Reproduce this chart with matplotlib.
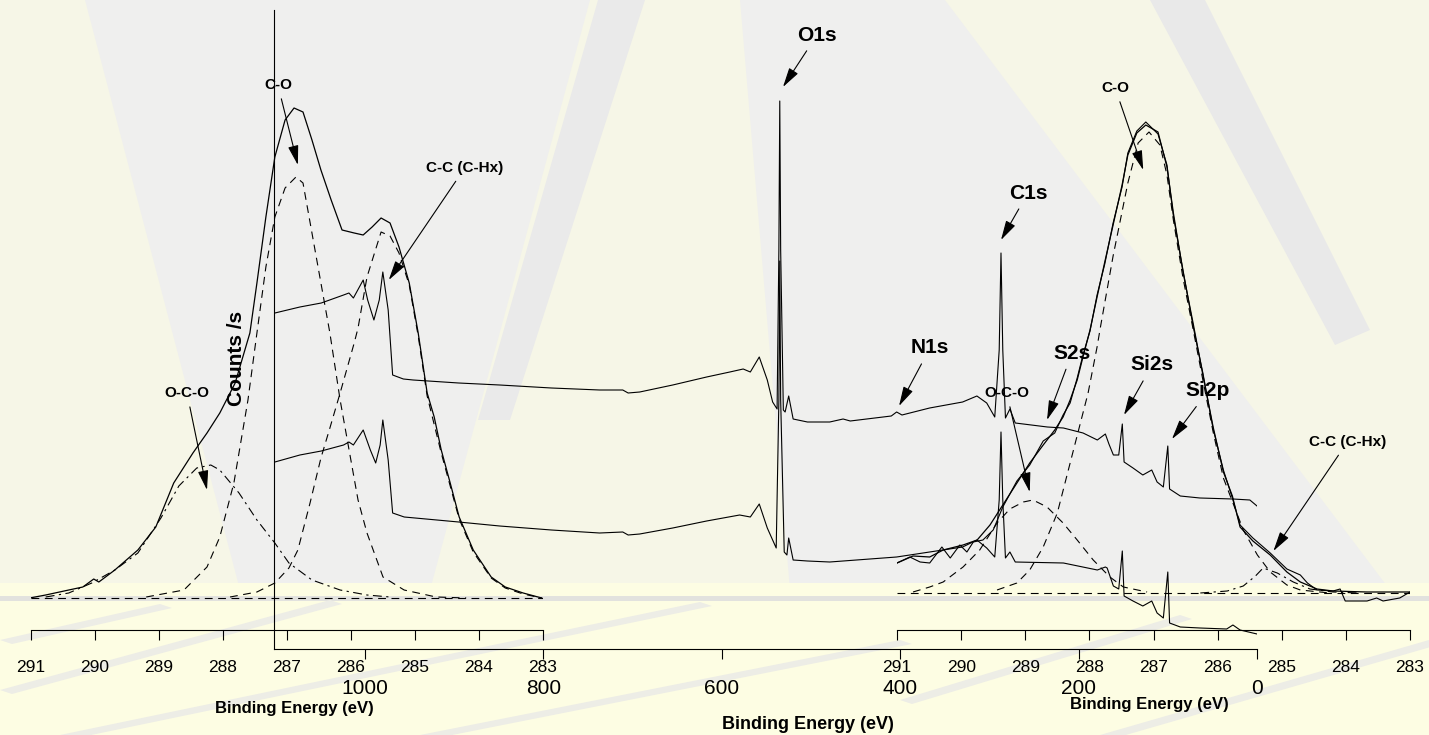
import matplotlib
matplotlib.use('Agg')
import matplotlib.pyplot as plt
from matplotlib.patches import Polygon

plt.rcParams['font.family'] = ['Liberation Sans', 'DejaVu Sans']

# ---------------- data: survey spectra (binding energy eV, counts/s arb.) ----------------
survey_upper_ev = [1101, 1073, 1049, 1024, 1018, 1013, 1002, 997, 990, 984, 980, 974, 969, 957, 946,
                   895, 849, 791, 737, 711, 705, 692, 655, 617, 591, 576, 568, 558, 549, 543, 538,
                   536, 535, 534, 531, 529, 525, 520, 504, 479, 464, 456, 410, 404, 398, 367, 330,
                   314, 303, 294, 289, 287, 285, 282, 277, 271, 235, 217, 195, 179, 170, 166, 161,
                   155, 151, 149, 139, 128, 118, 112, 105, 100, 98, 86, 64, 27, 8, 0]
survey_upper_cps = [336, 342, 346, 354, 356, 351, 369, 349, 329, 349, 377, 339, 274, 270, 269,
                    266, 264, 261, 259, 259, 256, 257, 264, 272, 277, 280, 277, 292, 269, 247, 240,
                    399, 548, 399, 239, 237, 253, 230, 227, 227, 230, 228, 233, 237, 234, 241, 247,
                    253, 246, 232, 299, 396, 299, 231, 240, 226, 222, 221, 216, 209, 215, 205, 194,
                    194, 225, 187, 181, 174, 179, 167, 162, 203, 160, 153, 151, 150, 149, 143]

survey_lower_ev = [1101, 1073, 1049, 1024, 1018, 1013, 1002, 994, 988, 983, 980, 974, 969, 956,
                   895, 849, 791, 737, 711, 705, 692, 655, 617, 580, 568, 558, 549, 539, 536, 535,
                   534, 530, 527, 525, 520, 504, 479, 404, 330, 314, 303, 294, 289, 287, 285, 282,
                   277, 271, 217, 179, 170, 168, 161, 155, 151, 149, 139, 128, 118, 112, 105, 100,
                   98, 86, 64, 34, 27, 19, 0]
survey_lower_cps = [187, 194, 198, 204, 207, 204, 219, 199, 186, 204, 229, 189, 136, 132,
                    127, 123, 119, 116, 117, 114, 115, 121, 128, 134, 132, 145, 121, 101, 249, 388,
                    249, 97, 94, 111, 89, 88, 87, 92, 102, 109, 101, 92, 149, 217, 149, 91,
                    97, 87, 86, 79, 82, 81, 63, 60, 98, 53, 48, 43, 48, 36, 31, 77,
                    26, 22, 21, 20, 24, 19, 15]

main_ticks = [1000, 800, 600, 400, 200, 0]
main_ticklabels = ['1000', '800', '600', '400', '200', '0']

# ---------------- data: left C1s inset ----------------
c1s_ticks = [291, 290, 289, 288, 287, 286, 285, 284, 283]

left_env_ev = [291.02, 290.77, 290.41, 290.19, 290.02, 289.94, 289.69, 289.33, 289.05, 288.77, 288.47,
               288.25, 288.05, 287.81, 287.58, 287.47, 287.33, 287.19, 287.03, 286.89, 286.75, 286.61,
               286.47, 286.31, 286.14, 285.95, 285.81, 285.67, 285.53, 285.39, 285.25, 285.09, 284.95,
               284.81, 284.70, 284.59, 284.45, 284.31, 284.09, 283.81, 283.59, 283.31, 283.02]
left_env_h = [0, 3, 8, 11, 19, 16, 28, 48, 71, 115, 145, 165, 185, 215, 265, 315, 381, 441, 478, 490,
              486, 458, 428, 398, 368, 365, 363, 371, 380, 375, 351, 315, 265, 205, 181, 148, 115, 81,
              48, 21, 11, 5, 0]

left_co_ev = [289.20, 288.61, 288.25, 288.05, 287.83, 287.61, 287.47, 287.33, 287.19, 287.03, 286.86,
              286.75, 286.61, 286.47, 286.33, 286.17, 286.03, 285.89, 285.75, 285.50, 285.17, 284.67, 284.20]
left_co_h = [1, 8, 31, 61, 115, 198, 265, 331, 381, 410, 421, 415, 365, 315, 265, 198, 148, 98, 65,
             21, 8, 1, 0]

left_cc_ev = [287.89, 287.47, 287.19, 286.97, 286.83, 286.64, 286.47, 286.33, 286.17, 285.95, 285.89,
              285.75, 285.53, 285.39, 285.25, 285.09, 284.95, 284.81, 284.59, 284.31, 284.09, 283.81,
              283.59, 283.31, 283.02]
left_cc_h = [1, 6, 15, 30, 48, 95, 140, 170, 205, 255, 270, 321, 366, 362, 345, 313, 262, 202, 145,
             79, 46, 20, 10, 4, 0]

left_oco_ev = [290.77, 290.41, 290.05, 289.69, 289.33, 288.97, 288.69, 288.41, 288.19, 288.05, 287.75,
               287.47, 287.19, 286.97, 286.61, 286.17, 285.75, 285.39]
left_oco_h = [1, 5, 15, 28, 45, 80, 112, 130, 133, 128, 105, 78, 55, 35, 18, 8, 3, 1]

# ---------------- data: right C1s inset ----------------
right_env_ev = [291.00, 290.75, 290.49, 290.28, 289.97, 289.75, 289.55, 289.35, 289.13, 288.93, 288.72,
                288.54, 288.41, 288.30, 288.19, 288.10, 287.99, 287.88, 287.76, 287.63, 287.49, 287.40,
                287.26, 287.12, 286.93, 286.79, 286.69, 286.54, 286.38, 286.23, 286.07, 285.91, 285.77,
                285.65, 285.45, 285.18, 284.92, 284.71, 284.45, 284.20, 283.67, 283.00]
right_env_h = [30, 37, 36, 43, 48, 53, 68, 88, 110, 130, 148, 163, 176, 193, 213, 236, 263, 296, 331,
               368, 408, 438, 460, 468, 461, 426, 380, 321, 269, 218, 166, 121, 97, 66, 52, 38, 21, 11,
               4, 2, 1, 1]

right_raw_ev = [291.00, 290.80, 290.64, 290.49, 290.30, 290.17, 290.02, 289.91, 289.81, 289.66, 289.50,
                289.35, 289.13, 288.93, 288.72, 288.54, 288.41, 288.30, 288.19, 288.10, 287.99, 287.88,
                287.76, 287.63, 287.49, 287.40, 287.26, 287.12, 286.93, 286.79, 286.69, 286.54, 286.38,
                286.23, 286.07, 285.91, 285.77, 285.65, 285.45, 285.18, 284.92, 284.71, 284.60, 284.45,
                284.20, 284.09, 284.01, 283.67, 283.52, 283.42, 283.16, 283.00]
right_raw_h = [30, 36, 31, 30, 46, 35, 48, 41, 51, 53, 63, 86, 112, 128, 152, 160, 178, 190, 215, 238,
               262, 298, 329, 370, 406, 440, 462, 471, 459, 428, 377, 323, 266, 220, 164, 123, 95, 68,
               55, 40, 24, 18, 10, 3, 2, 4, -8, -8, -5, -8, -5, 1]

right_co_ev = [289.44, 289.13, 288.93, 288.72, 288.50, 288.30, 288.10, 288.02, 287.88, 287.83, 287.63,
               287.40, 287.24, 287.07, 286.90, 286.79, 286.69, 286.54, 286.38, 286.23, 286.07, 285.91,
               285.60, 285.38, 285.18, 284.92, 284.71, 284.25]
right_co_h = [3, 10, 23, 46, 80, 130, 180, 200, 246, 265, 337, 410, 450, 461, 448, 418, 373, 315, 263,
              213, 161, 115, 63, 38, 21, 8, 3, 0]

right_oco_ev = [290.75, 290.49, 290.28, 289.97, 289.71, 289.44, 289.24, 289.03, 288.88, 288.66, 288.41,
                288.19, 287.94, 287.68, 287.47, 287.10]
right_oco_h = [1, 6, 11, 26, 43, 70, 84, 91, 93, 86, 70, 53, 33, 16, 6, 1]

right_cc_ev = [286.27, 285.85, 285.60, 285.41, 285.29, 285.07, 284.82, 284.56, 284.20, 283.78]
right_cc_h = [0, 2, 7, 17, 25, 20, 11, 4, 1, 0]

# ---------------- annotations: (label, x, y, dx_pt, dy_pt, size) ----------------
main_notes = [('O1s', 531.4, 562, 24.5, 37.4, 15), ('C1s', 287.0, 409, 19.4, 33.8, 15),
              ('N1s', 401.3, 243, 22.3, 41.8, 15), ('S2s', 235.4, 229, 18.0, 48.2, 15),
              ('Si2s', 149.1, 234, 20.2, 36.0, 15), ('Si2p', 95.3, 210, 25.9, 34.6, 15)]
left_notes = [('C-O', 286.83, 433, -14.4, 57.6), ('C-C (C-Hx)', 285.41, 318, 54.7, 80.6),
              ('O-C-O', 288.25, 108, -14.4, 69.8)]
right_notes = [('C-O', 287.16, 423, -20.2, 59.0), ('O-C-O', 288.93, 101, -16.6, 71.3),
               ('C-C (C-Hx)', 285.13, 42, 53.3, 78.5)]

# ---------------- figure ----------------
W, H = 1429, 735
fig = plt.figure(figsize=(W / 100, H / 100), dpi=100)
fig.patch.set_facecolor('#F6F6E7')


def P(x, y):
    return (x / W, 1 - y / H)


def add_poly(pts, col, z=-10):
    fig.add_artist(Polygon([P(*p) for p in pts], closed=True, transform=fig.transFigure,
                           facecolor=col, edgecolor='none', zorder=z))


# decorative background (slide template streaks)
add_poly([(85, 0), (590, 0), (430, 590), (240, 590)], '#EFEFEE')
add_poly([(598, 0), (645, 0), (510, 420), (478, 420)], '#EAEAEA')
add_poly([(740, 0), (945, 0), (1390, 590), (790, 590)], '#EFEFEE')
add_poly([(1150, 0), (1205, 0), (1370, 330), (1335, 345)], '#E9E9E9')
add_poly([(0, 583), (W, 583), (W, H), (0, H)], '#FDFDE3')
add_poly([(0, 596), (W, 596), (W, 601), (0, 601)], '#E2E2DE')
for (x0, y0, x1, y1) in [(0, 690, 330, 600), (60, 735, 700, 602), (420, 735, 900, 640),
                         (900, 700, 1180, 615), (1100, 735, 1429, 640), (0, 640, 160, 604)]:
    add_poly([(x0, y0), (x1, y1), (x1 + 12, y1 + 4), (x0 + 12, y0 + 4)], '#EDEDE6')


def axrect(l, r, t, b):
    return [l / W, 1 - b / H, (r - l) / W, (b - t) / H]


arrow_kw = dict(arrowstyle='-|>,head_length=0.75,head_width=0.2', color='black', lw=0.8,
                shrinkA=3, shrinkB=0, mutation_scale=16)

# main axes
ax = fig.add_axes(axrect(274, 1257, 10, 649))
ax.set_facecolor('none')
ax.set_xlim(1102, 0)
ax.set_ylim(0, 639)
for s in ['top', 'right']:
    ax.spines[s].set_visible(False)
for s in ['left', 'bottom']:
    ax.spines[s].set_linewidth(0.8)
ax.set_yticks([])
ax.set_xticks(main_ticks)
ax.set_xticklabels(main_ticklabels)
ax.tick_params(axis='x', direction='out', length=7.5, width=0.8, labelsize=15, pad=14)
ax.plot(survey_upper_ev, survey_upper_cps, color='black', lw=0.8)
ax.plot(survey_lower_ev, survey_lower_cps, color='black', lw=0.8)
for lab, x, y, dx, dy, fs in main_notes:
    ax.annotate(lab, (x, y), xytext=(dx, dy), textcoords='offset points', ha='center', va='center',
                fontsize=fs, fontweight='bold', arrowprops=arrow_kw, annotation_clip=False)


def make_inset(l, r, ylo, yhi):
    a = fig.add_axes(axrect(l, r, 10, 630))
    a.set_facecolor('none')
    a.set_xlim(291, 283)
    a.set_ylim(ylo, yhi)
    for s in ['top', 'right', 'left']:
        a.spines[s].set_visible(False)
    a.spines['bottom'].set_linewidth(0.8)
    a.set_yticks([])
    a.set_xticks(c1s_ticks)
    a.set_xticklabels([str(t) for t in c1s_ticks])
    a.tick_params(axis='x', direction='out', length=7, width=0.8, labelsize=12.5, pad=14.5)
    return a


dash = (0, (7, 5))
ax1 = make_inset(31, 543, -32, 588)
ax1.plot([291, 283], [0, 0], color='black', lw=0.8, linestyle=dash)
ax1.plot(left_co_ev, left_co_h, color='black', lw=0.8, linestyle=dash)
ax1.plot(left_cc_ev, left_cc_h, color='black', lw=0.8, linestyle=dash)
ax1.plot(left_oco_ev, left_oco_h, color='black', lw=0.8, linestyle=(0, (8, 4, 2, 4)))
ax1.plot(left_env_ev, left_env_h, color='black', lw=0.9)
for lab, x, y, dx, dy in left_notes:
    ax1.annotate(lab, (x, y), xytext=(dx, dy), textcoords='offset points', ha='center', va='center',
                 fontsize=11, fontweight='bold', arrowprops=arrow_kw, annotation_clip=False)

ax2 = make_inset(897, 1410, -37, 583)
ax2.plot([291, 283], [0, 0], color='black', lw=0.8, linestyle=dash)
ax2.plot(right_co_ev, right_co_h, color='black', lw=0.8, linestyle=dash)
ax2.plot(right_oco_ev, right_oco_h, color='black', lw=0.8, linestyle=dash)
ax2.plot(right_cc_ev, right_cc_h, color='black', lw=0.8, linestyle=(0, (8, 4, 2, 4)))
ax2.plot(right_raw_ev, right_raw_h, color='black', lw=0.8)
ax2.plot(right_env_ev, right_env_h, color='black', lw=0.9)
for lab, x, y, dx, dy in right_notes:
    ax2.annotate(lab, (x, y), xytext=(dx, dy), textcoords='offset points', ha='center', va='center',
                 fontsize=11, fontweight='bold', arrowprops=arrow_kw, annotation_clip=False)

# axis titles
fig.text(*P(236, 358), 'Counts /s', rotation=90, ha='center', va='center', fontsize=15,
         fontweight='bold')
fig.text(*P(294, 701), 'Binding Energy (eV)', ha='center', va='top', fontsize=12, fontweight='bold')
fig.text(*P(1149, 697), 'Binding Energy (eV)', ha='center', va='top', fontsize=12, fontweight='bold')
fig.text(*P(808, 733), 'Binding Energy (eV)', ha='center', va='bottom', fontsize=13, fontweight='bold')

fig.savefig('out.png', dpi=100, facecolor=fig.get_facecolor())
